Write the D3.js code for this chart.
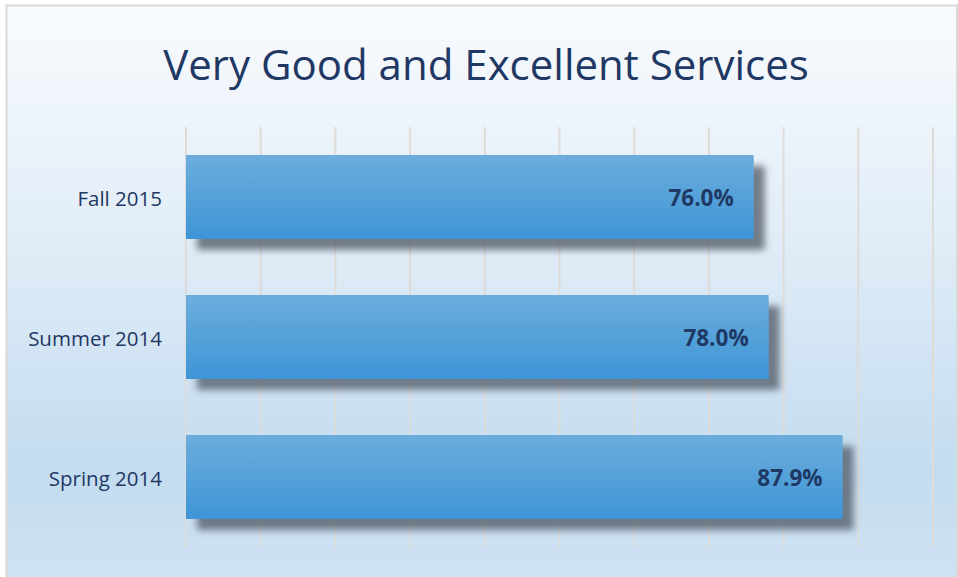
<!DOCTYPE html>
<html>
<head>
<meta charset="utf-8">
<script src="https://cdn.jsdelivr.net/npm/d3@7"></script>
<style>
  html, body { margin: 0; padding: 0; background: #fff; }
  svg { display: block; }
</style>
</head>
<body>
<svg width="958" height="577"></svg>
<script>
  // chart data
  const categories = ["Fall 2015", "Summer 2014", "Spring 2014"];
  const values = [76.0, 78.0, 87.9];
  const ticks = [0, 10, 20, 30, 40, 50, 60, 70, 80, 90, 100];
  const title = "Very Good and Excellent Services";

  const svg = d3.select("svg"),
    width = +svg.attr("width"),
    height = +svg.attr("height");

  const font = "'Open Sans', 'Noto Sans', sans-serif";
  const navy = "#1f3864";

  const defs = svg.append("defs");

  // background gradient, light at top, bluer toward the bottom
  const bg = defs.append("linearGradient").attr("id", "bg")
    .attr("x1", 0).attr("y1", 0).attr("x2", 0).attr("y2", 1);
  bg.append("stop").attr("offset", "0%").attr("stop-color", "#f9fbfe");
  bg.append("stop").attr("offset", "40%").attr("stop-color", "#e0ecf7");
  bg.append("stop").attr("offset", "78%").attr("stop-color", "#c3dcf0");
  bg.append("stop").attr("offset", "100%").attr("stop-color", "#d3e4f3");

  // bar gradient
  const barGrad = defs.append("linearGradient").attr("id", "barGrad")
    .attr("x1", 0).attr("y1", 0).attr("x2", 0).attr("y2", 1);
  barGrad.append("stop").attr("offset", "0%").attr("stop-color", "#6caddd");
  barGrad.append("stop").attr("offset", "100%").attr("stop-color", "#3e95d6");

  // drop shadow for bars
  const shadow = defs.append("filter").attr("id", "shadow")
    .attr("x", "-10%").attr("y", "-30%").attr("width", "130%").attr("height", "190%");
  shadow.append("feGaussianBlur").attr("in", "SourceAlpha").attr("stdDeviation", 3.5).attr("result", "blur");
  shadow.append("feOffset").attr("in", "blur").attr("dx", 11).attr("dy", 11).attr("result", "off");
  shadow.append("feFlood").attr("flood-color", "#56606c").attr("flood-opacity", 0.8);
  shadow.append("feComposite").attr("in2", "off").attr("operator", "in").attr("result", "sh");
  const merge = shadow.append("feMerge");
  merge.append("feMergeNode").attr("in", "sh");
  merge.append("feMergeNode").attr("in", "SourceGraphic");

  // chart area with border
  svg.append("rect")
    .attr("x", 6.5).attr("y", 5.5)
    .attr("width", 950.5).attr("height", 600)
    .attr("fill", "url(#bg)")
    .attr("stroke", "#d9d9d9")
    .attr("stroke-width", 2);

  svg.append("text")
    .attr("x", 486).attr("y", 80)
    .attr("text-anchor", "middle")
    .attr("font-family", font)
    .attr("font-size", 42)
    .attr("fill", navy)
    .text(title);

  const x = d3.scaleLinear().domain([0, 100]).range([186, 933]);
  const y = d3.scaleBand().domain(categories).range([127, 547])
    .paddingInner(0.4).paddingOuter(0.2);

  // vertical gridlines
  svg.append("g").selectAll("line")
    .data(ticks)
    .join("line")
    .attr("x1", d => x(d)).attr("x2", d => x(d))
    .attr("y1", 127).attr("y2", 547)
    .attr("stroke", "#dedcd8")
    .attr("stroke-width", 2);

  // category labels
  const yAxis = svg.append("g")
    .attr("transform", "translate(186,0)")
    .call(d3.axisLeft(y).tickSize(0).tickPadding(24));
  yAxis.select(".domain").remove();
  yAxis.selectAll("text")
    .attr("font-family", font)
    .attr("font-size", 20.5)
    .attr("dy", "0.42em")
    .attr("fill", navy);

  // bars
  svg.append("g").selectAll("rect")
    .data(values)
    .join("rect")
    .attr("x", x(0))
    .attr("y", (d, i) => y(categories[i]))
    .attr("width", d => x(d) - x(0))
    .attr("height", y.bandwidth())
    .attr("fill", "url(#barGrad)")
    .attr("filter", "url(#shadow)");

  // value labels
  svg.append("g").selectAll("text")
    .data(values)
    .join("text")
    .attr("x", d => x(d) - 20)
    .attr("y", (d, i) => y(categories[i]) + y.bandwidth() / 2)
    .attr("dy", "0.38em")
    .attr("text-anchor", "end")
    .attr("font-family", font)
    .attr("font-weight", "bold")
    .attr("font-size", 22.5)
    .attr("fill", navy)
    .text(d => d.toFixed(1) + "%");
</script>
</body>
</html>
